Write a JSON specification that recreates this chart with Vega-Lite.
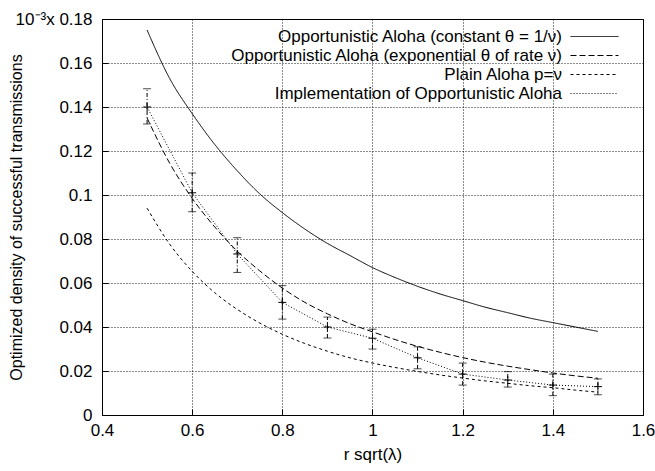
{
  "$schema": "https://vega.github.io/schema/vega-lite/v6.json",
  "width": 541,
  "height": 396,
  "padding": {"left": 8, "top": 10, "right": 5, "bottom": 5},
  "config": {
    "font": "Liberation Sans",
    "view": {"stroke": "#000", "strokeWidth": 1},
    "axis": {
      "labelFontSize": 17, "titleFontSize": 17, "labelColor": "#000", "titleColor": "#000",
      "titleFontWeight": "normal", "domainColor": "#000", "tickColor": "#000",
      "gridColor": "#000", "gridDash": [1, 2], "gridOpacity": 0.9, "gridWidth": 1,
      "tickSize": -6, "labelPadding": 16, "labelFlush": false
    },
    "legend": {
      "labelFontSize": 17, "labelColor": "#000", "labelFont": "Liberation Sans"
    }
  },
  "datasets": {
    "curves": [
      {"s": "A", "x": 0.5, "y": 0.175}, {"s": "A", "x": 0.55, "y": 0.153}, {"s": "A", "x": 0.6, "y": 0.137},
      {"s": "A", "x": 0.65, "y": 0.123}, {"s": "A", "x": 0.7, "y": 0.111}, {"s": "A", "x": 0.75, "y": 0.1005},
      {"s": "A", "x": 0.8, "y": 0.092}, {"s": "A", "x": 0.85, "y": 0.0845}, {"s": "A", "x": 0.9, "y": 0.078},
      {"s": "A", "x": 0.95, "y": 0.0725}, {"s": "A", "x": 1.0, "y": 0.067}, {"s": "A", "x": 1.05, "y": 0.0625},
      {"s": "A", "x": 1.1, "y": 0.0585}, {"s": "A", "x": 1.15, "y": 0.055}, {"s": "A", "x": 1.2, "y": 0.052},
      {"s": "A", "x": 1.25, "y": 0.049}, {"s": "A", "x": 1.3, "y": 0.0465}, {"s": "A", "x": 1.35, "y": 0.044},
      {"s": "A", "x": 1.4, "y": 0.042}, {"s": "A", "x": 1.45, "y": 0.040}, {"s": "A", "x": 1.5, "y": 0.038},
      {"s": "B", "x": 0.5, "y": 0.135}, {"s": "B", "x": 0.55, "y": 0.1145}, {"s": "B", "x": 0.6, "y": 0.0985},
      {"s": "B", "x": 0.65, "y": 0.0855}, {"s": "B", "x": 0.7, "y": 0.0745}, {"s": "B", "x": 0.75, "y": 0.0655},
      {"s": "B", "x": 0.8, "y": 0.0577}, {"s": "B", "x": 0.85, "y": 0.0512}, {"s": "B", "x": 0.9, "y": 0.046},
      {"s": "B", "x": 0.95, "y": 0.0415}, {"s": "B", "x": 1.0, "y": 0.0378}, {"s": "B", "x": 1.05, "y": 0.0343},
      {"s": "B", "x": 1.1, "y": 0.0312}, {"s": "B", "x": 1.15, "y": 0.0285}, {"s": "B", "x": 1.2, "y": 0.0261},
      {"s": "B", "x": 1.25, "y": 0.024}, {"s": "B", "x": 1.3, "y": 0.0222}, {"s": "B", "x": 1.35, "y": 0.0206},
      {"s": "B", "x": 1.4, "y": 0.0191}, {"s": "B", "x": 1.45, "y": 0.0178}, {"s": "B", "x": 1.5, "y": 0.0167},
      {"s": "C", "x": 0.5, "y": 0.094}, {"s": "C", "x": 0.55, "y": 0.0777}, {"s": "C", "x": 0.6, "y": 0.0653},
      {"s": "C", "x": 0.65, "y": 0.0556}, {"s": "C", "x": 0.7, "y": 0.048}, {"s": "C", "x": 0.75, "y": 0.0418},
      {"s": "C", "x": 0.8, "y": 0.0367}, {"s": "C", "x": 0.85, "y": 0.0325}, {"s": "C", "x": 0.9, "y": 0.029},
      {"s": "C", "x": 0.95, "y": 0.026}, {"s": "C", "x": 1.0, "y": 0.0236}, {"s": "C", "x": 1.05, "y": 0.0216},
      {"s": "C", "x": 1.1, "y": 0.0198}, {"s": "C", "x": 1.15, "y": 0.0182}, {"s": "C", "x": 1.2, "y": 0.0168},
      {"s": "C", "x": 1.25, "y": 0.0155}, {"s": "C", "x": 1.3, "y": 0.0144}, {"s": "C", "x": 1.35, "y": 0.0133},
      {"s": "C", "x": 1.4, "y": 0.0124}, {"s": "C", "x": 1.45, "y": 0.0113}, {"s": "C", "x": 1.5, "y": 0.0104}
    ],
    "impl": [
      {"s": "D", "x": 0.5, "y": 0.140, "lo": 0.1323, "hi": 0.1483},
      {"s": "D", "x": 0.6, "y": 0.101, "lo": 0.0924, "hi": 0.110},
      {"s": "D", "x": 0.7, "y": 0.0732, "lo": 0.0648, "hi": 0.0806},
      {"s": "D", "x": 0.8, "y": 0.0512, "lo": 0.0436, "hi": 0.0588},
      {"s": "D", "x": 0.9, "y": 0.040, "lo": 0.035, "hi": 0.0445},
      {"s": "D", "x": 1.0, "y": 0.0349, "lo": 0.030, "hi": 0.039},
      {"s": "D", "x": 1.1, "y": 0.026, "lo": 0.021, "hi": 0.031},
      {"s": "D", "x": 1.2, "y": 0.0186, "lo": 0.0136, "hi": 0.0236},
      {"s": "D", "x": 1.3, "y": 0.0159, "lo": 0.0127, "hi": 0.0197},
      {"s": "D", "x": 1.4, "y": 0.0136, "lo": 0.0088, "hi": 0.0186},
      {"s": "D", "x": 1.5, "y": 0.0129, "lo": 0.0092, "hi": 0.0164}
    ]
  },
  "encoding": {
    "x": {
      "field": "x", "type": "quantitative",
      "scale": {"domain": [0.4, 1.6], "nice": false, "zero": false},
      "axis": {"values": [0.4, 0.6, 0.8, 1.0, 1.2, 1.4, 1.6], "format": "~g", "title": "r sqrt(λ)", "labelPadding": 13, "titlePadding": 8}
    },
    "y": {
      "field": "y", "type": "quantitative",
      "scale": {"domain": [0, 0.18], "nice": false},
      "axis": {
        "values": [0, 0.02, 0.04, 0.06, 0.08, 0.1, 0.12, 0.14, 0.16, 0.18], "format": "~g",
        "labelExpr": "abs(datum.value - 0.18) < 1e-9 ? '10⁻³x 0.18' : datum.label",
        "title": "Optimized density of successful transmissions", "titleFontSize": 16, "titlePadding": -9
      }
    }
  },
  "layer": [
    {
      "data": {"name": "curves"},
      "mark": {"type": "line", "color": "#000", "strokeWidth": 1, "interpolate": "monotone"},
      "encoding": {
        "strokeDash": {
          "field": "s", "type": "nominal",
          "scale": {"domain": ["A", "B", "C", "D"], "range": [[1, 0], [6, 3], [3, 3], [1, 2]]},
          "legend": {
            "title": null, "orient": "none", "legendX": 484, "legendY": 9,
            "labelExpr": "datum.value == 'A' ? 'Opportunistic Aloha (constant θ = 1/ν)' : datum.value == 'B' ? 'Opportunistic Aloha (exponential θ of rate ν)' : datum.value == 'C' ? 'Plain Aloha p=ν' : 'Implementation of Opportunistic Aloha'",
            "symbolType": "M-3,0H3", "symbolSize": 256, "symbolStrokeColor": "#000", "symbolFillColor": "transparent", "symbolStrokeWidth": 1,
            "labelAlign": "right", "labelOffset": -41, "symbolOffset": 0, "rowPadding": 1, "labelLimit": 400
          }
        }
      }
    },
    {
      "data": {"name": "impl"},
      "mark": {"type": "line", "color": "#000", "strokeWidth": 1},
      "encoding": {
        "strokeDash": {"field": "s", "type": "nominal"}
      }
    },
    {
      "data": {"name": "impl"},
      "mark": {"type": "rule", "color": "#000", "strokeWidth": 1, "strokeDash": [4, 2, 1, 2]},
      "encoding": {"y": {"field": "lo", "type": "quantitative"}, "y2": {"field": "hi"}}
    },
    {
      "data": {"name": "impl"},
      "mark": {"type": "tick", "color": "#000", "orient": "horizontal", "size": 8, "thickness": 1},
      "encoding": {"y": {"field": "lo", "type": "quantitative"}}
    },
    {
      "data": {"name": "impl"},
      "mark": {"type": "tick", "color": "#000", "orient": "horizontal", "size": 8, "thickness": 1},
      "encoding": {"y": {"field": "hi", "type": "quantitative"}}
    },
    {
      "data": {"name": "impl"},
      "mark": {"type": "point", "shape": "M-1,0H1M0,-1V1", "filled": false, "stroke": "#000", "strokeWidth": 1, "size": 64, "opacity": 1}
    }
  ]
}
